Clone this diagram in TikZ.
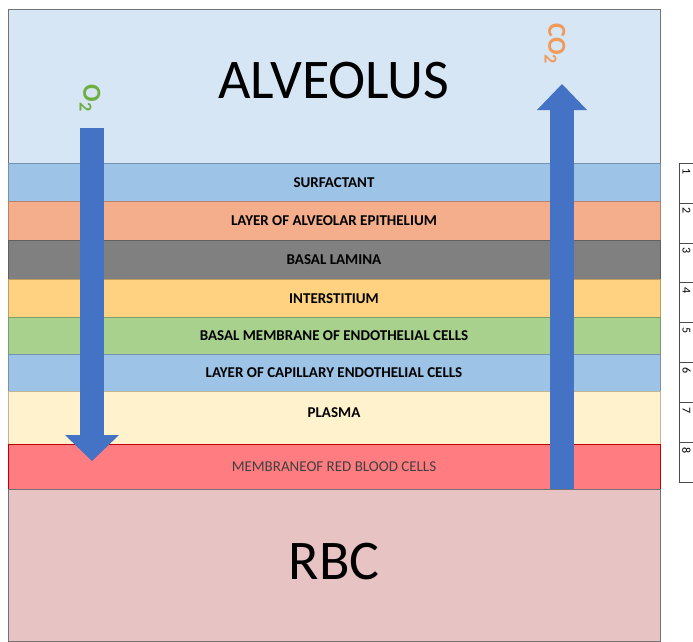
\documentclass[tikz,border=0pt]{standalone}
\usepackage{fontspec}
\setmainfont{Carlito}
\usetikzlibrary{arrows.meta,positioning}
\definecolor{alvblue}{HTML}{D7E6F5}
\definecolor{surfblue}{HTML}{9DC3E6}
\definecolor{epiorange}{HTML}{F4AE8C}
\definecolor{laminagray}{HTML}{808080}
\definecolor{intgold}{HTML}{FED280}
\definecolor{memgreen}{HTML}{A9D18E}
\definecolor{plasmacream}{HTML}{FFF2CC}
\definecolor{rbcred}{HTML}{FF7C80}
\definecolor{rbcpink}{HTML}{E8C3C4}
\definecolor{flowblue}{HTML}{4472C4}
\definecolor{o2green}{HTML}{6FAE45}
\definecolor{co2orange}{HTML}{F09A5C}

\begin{document}
\begin{tikzpicture}[
    x=1pt, y=-1pt,
    font=\bfseries\fontsize{15}{17}\selectfont,
    region/.style={draw=black!55, fill=#1, line width=0.8pt, minimum width=652pt,
                   inner sep=0pt, outer sep=0pt, font=\fontsize{56}{60}\selectfont},
    layer/.style={draw=#1!75!black, fill=#1, line width=0.6pt, minimum width=652pt,
                  minimum height=38pt, inner sep=0pt, outer sep=0pt,
                  text height=10pt, text depth=0pt},
    flow/.style={line width=24pt, draw=flowblue,
                 -{Triangle[width=54pt,length=26pt,line width=0pt]}},
    gas/.style={font=\bfseries\fontsize{26}{28}\selectfont, rotate=-90, inner sep=0pt},
    cell/.style={draw=black!70, line width=0.5pt, rotate=-90, minimum height=15pt,
                 text width=29.9pt, inner xsep=5pt, inner ysep=0pt, align=left,
                 font=\fontsize{12}{14}\selectfont}
]
\useasboundingbox (0,0) rectangle (693,642);

% alveolus and the barrier layers
\node[region=alvblue, minimum height=154pt, anchor=north west,
      text height=36pt, text depth=12pt] (alveolus) at (8,9) {ALVEOLUS};
\node[layer=surfblue, below=0pt of alveolus] (surfactant) {SURFACTANT};
\node[layer=epiorange, minimum height=39pt, below=0pt of surfactant] (epithelium)
    {LAYER OF ALVEOLAR EPITHELIUM};
\node[layer=laminagray, minimum height=39pt, below=0pt of epithelium] (lamina)
    {BASAL LAMINA};
\node[layer=intgold, below=0pt of lamina] (interstitium) {INTERSTITIUM};
\node[layer=memgreen, minimum height=37pt, below=0pt of interstitium] (basalmem)
    {BASAL MEMBRANE OF ENDOTHELIAL CELLS};
\node[layer=surfblue, minimum height=37pt, below=0pt of basalmem] (capillary)
    {LAYER OF CAPILLARY ENDOTHELIAL CELLS};
\node[layer=plasmacream, minimum height=53pt, text depth=11pt, below=0pt of capillary]
    (plasma) {PLASMA};
\node[layer=rbcred, draw=red!75!black, line width=1pt, minimum height=45pt,
      font=\fontsize{15}{17}\selectfont, text=black!75, below=0pt of plasma] (rbcmem)
    {MEMBRANEOF RED BLOOD CELLS};
\node[region=rbcpink, minimum height=152pt, text depth=7pt, below=0pt of rbcmem] (rbc)
    {RBC};

% gas flows
\coordinate (o2tail) at (92,128);
\coordinate (o2tip) at (92,461);
\coordinate (co2tip) at (562,84);
\draw[flow] (o2tail) -- (o2tip);
\draw[flow, -{Triangle[width=50pt,length=26pt,line width=0pt]}]
    (rbcmem.south -| co2tip) -- (co2tip);
\node[gas, text=o2green] (o2) at (90,98.5) {O\textsubscript{2}};
\node[gas, text=co2orange] (co2) at (555,44) {CO\textsubscript{2}};

% layer numbers
\foreach \n in {1,...,8}
    \node[cell] (row\n) at (686.5,{163+(\n-0.5)*39.9}) {\n};
\end{tikzpicture}
\end{document}
